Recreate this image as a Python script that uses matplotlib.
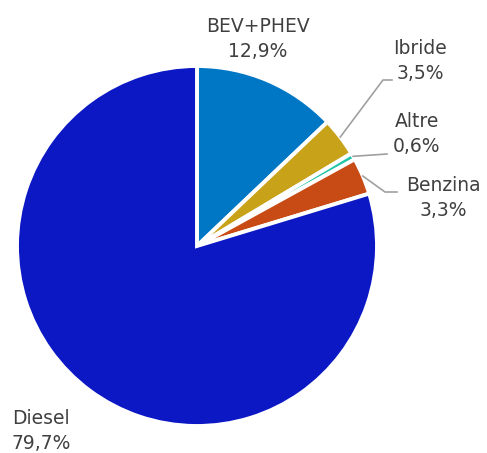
import numpy as np
import matplotlib.pyplot as plt

# dati
categorie = ['BEV+PHEV', 'Ibride', 'Altre', 'Benzina', 'Diesel']
quote = [12.9, 3.5, 0.6, 3.3, 79.7]
etichette = ['12,9%', '3,5%', '0,6%', '3,3%', '79,7%']
colori = ['#0077C4', '#C8A218', '#22C4A8', '#C84A14', '#0B18C4']

W, H = 487, 453
fig = plt.figure(figsize=(W / 100, H / 100), dpi=100)
ax = fig.add_axes([0, 0, 1, 1])

cx, cy, r = 197, H - 246, 180
wedges, _ = ax.pie(quote, colors=colori, startangle=90, counterclock=False,
                   radius=r, center=(cx, cy),
                   wedgeprops=dict(edgecolor='white', linewidth=2.8))

ax.set_xlim(0, W)
ax.set_ylim(0, H)
ax.set_aspect('equal')
ax.axis('off')

testo = '#404040'
fs = 13.5

# posizioni delle etichette (pixel, origine in alto a sinistra)
pos_etichette = [(258, 39), (420, 61), (417, 134), (443, 198), (41, 431)]
for cat, lab, (x, y) in zip(categorie, etichette, pos_etichette):
    ax.text(x, H - y, f'{cat}\n{lab}', ha='center', va='center',
            fontsize=fs, color=testo, linespacing=1.4)

# linee guida
def punto_bordo(i):
    w = wedges[i]
    ang = np.deg2rad((w.theta1 + w.theta2) / 2)
    return cx + r * np.cos(ang), cy + r * np.sin(ang)

grigio = '#A0A0A0'
x0, y0 = punto_bordo(1)
ax.plot([x0, 383, 392], [y0, H - 80, H - 80], color=grigio, lw=1.2)
x0, y0 = punto_bordo(2)
ax.plot([x0, 387], [y0, H - 154], color=grigio, lw=1.2)
x0, y0 = punto_bordo(3)
ax.plot([x0, 385, 397], [y0, H - 192, H - 192], color=grigio, lw=1.2)

fig.savefig('out.png', dpi=100)
